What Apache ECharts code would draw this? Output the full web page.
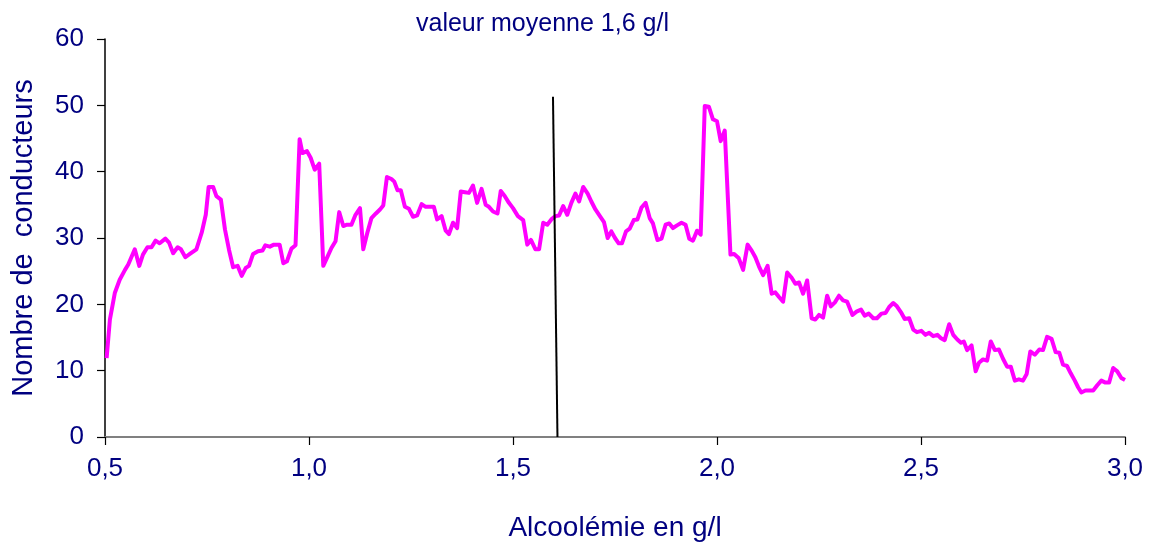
<!DOCTYPE html>
<html>
<head>
<meta charset="utf-8">
<script src="https://cdn.jsdelivr.net/npm/echarts@6/dist/echarts.min.js"></script>
<style>html,body{margin:0;padding:0;background:#fff;}#c{width:1151px;height:544px;}</style>
</head>
<body>
<div id="c"></div>
<script>
var titleText = 'valeur moyenne 1,6 g/l';
var xName = 'Alcoolémie en g/l';
var yName = 'Nombre de  conducteurs';
var alcool = [0.504,0.512,0.524,0.536,0.549,0.557,0.573,0.584,0.593,0.604,0.614,0.624,0.634,0.648,0.657,0.667,0.678,0.686,0.697,0.708,0.724,0.737,0.747,0.754,0.765,0.773,0.784,0.794,0.804,0.814,0.825,0.835,0.845,0.853,0.863,0.875,0.886,0.893,0.904,0.914,0.928,0.937,0.946,0.957,0.967,
0.977,0.984,0.995,1.004,1.014,1.025,1.035,1.044,1.055,1.065,1.074,1.084,1.093,1.104,1.114,1.125,1.133,1.143,1.153,1.164,1.174,1.182,1.191,1.202,1.209,1.217,1.225,1.235,1.245,1.255,1.265,1.276,1.286,1.296,1.306,1.314,1.325,1.335,1.343,1.353,1.363,1.372,1.382,1.392,1.402,1.412,1.423,1.433,1.441,1.451,1.462,1.470,1.480,1.490,1.500,1.512,1.525,1.535,1.544,1.555,1.564,1.574,1.584,1.594,1.604,1.613,1.623,1.633,1.643,1.653,1.662,1.672,1.683,1.692,1.702,1.713,1.723,1.732,1.741,1.750,1.759,1.767,1.777,1.786,1.796,1.805,1.815,1.825,1.835,1.843,1.854,1.864,1.874,1.883,1.892,1.902,1.913,1.923,1.932,1.941,1.951,1.960,1.970,1.980,1.990,2.000,2.009,2.019,2.033,2.042,2.053,2.064,2.075,2.085,2.094,2.103,2.113,2.124,2.134,2.143,2.152,2.162,2.172,2.183,2.192,2.201,2.211,2.221,2.232,2.241,2.250,2.260,2.270,2.279,2.289,2.299,2.309,2.319,2.332,2.342,2.353,2.362,2.372,2.383,2.392,2.403,2.413,2.422,2.432,2.441,2.451,2.460,2.471,2.481,2.490,2.501,2.511,2.520,2.530,2.540,2.549,2.558,2.569,2.579,2.589,2.598,2.605,2.613,2.624,2.634,2.642,2.652,2.662,2.671,2.681,2.691,2.701,2.711,2.720,2.730,2.740,2.750,2.759,2.768,2.779,2.790,2.799,2.809,2.820,2.830,2.839,2.848,2.858,2.867,2.877,2.885,2.893,2.903,2.914,2.922,2.932,2.942,2.952,2.961,2.971,2.981,2.991,3.000];
var conducteurs = [11.9,17.7,21.7,23.7,25.2,26.0,28.3,25.8,27.5,28.6,28.6,29.6,29.2,29.9,29.3,27.7,28.6,28.3,27.1,27.6,28.3,30.8,33.5,37.7,37.7,36.3,35.8,31.3,28.2,25.6,25.8,24.3,25.5,25.8,27.6,28.0,28.1,28.9,28.7,29.0,29.0,26.2,26.5,28.4,28.9,
44.9,42.8,43.1,42.1,40.3,41.2,25.8,27.0,28.5,29.5,33.9,31.8,32.0,32.0,33.5,34.5,28.3,30.8,33.0,33.7,34.3,34.9,39.2,38.9,38.5,37.2,37.2,34.7,34.4,33.2,33.4,35.1,34.7,34.7,34.7,32.8,33.3,31.1,30.6,32.3,31.5,37.0,36.9,36.8,37.9,35.3,37.4,35.0,34.7,34.0,33.7,37.1,36.3,35.3,34.5,33.3,32.7,29.0,29.7,28.3,28.3,32.3,32.0,32.8,33.3,33.4,34.8,33.5,35.3,36.7,35.5,37.7,36.7,35.5,34.3,33.3,32.4,30.0,31.0,30.0,29.2,29.2,31.0,31.4,32.7,32.8,34.6,35.3,33.0,32.2,29.7,29.9,32.0,32.2,31.5,31.9,32.3,32.0,29.9,29.6,31.1,30.5,49.9,49.8,47.9,47.6,44.6,46.2,27.5,27.6,27.0,25.2,29.0,28.1,27.1,25.7,24.4,25.8,21.6,21.8,21.1,20.4,24.8,24.0,23.1,23.3,21.6,23.6,17.9,17.7,18.4,18.0,21.3,19.7,20.3,21.3,20.6,20.4,18.4,18.9,19.2,18.3,18.6,17.9,17.9,18.6,18.7,19.6,20.2,19.7,18.8,17.8,17.9,16.2,15.8,16.0,15.4,15.7,15.2,15.4,14.9,14.6,17.0,15.4,14.7,14.2,14.4,13.1,13.8,9.9,11.2,11.7,11.5,14.4,13.1,13.2,11.8,10.6,10.6,8.5,8.7,8.5,9.5,12.9,12.4,13.2,13.1,15.1,14.8,12.8,12.7,10.9,10.7,9.6,8.5,7.5,6.7,7.0,7.0,7.0,7.8,8.5,8.2,8.2,10.4,9.9,8.9,8.6];
var moyenneX = [1.598, 1.609];
var moyenneY = [51.3, 0];
var xTicks = [0.5, 1.0, 1.5, 2.0, 2.5, 3.0];

var n = Math.min(alcool.length, conducteurs.length);
var lineData = [];
for (var i = 0; i < n; i++) lineData.push([alcool[i], conducteurs[i]]);
var meanData = [];
for (var j = 0; j < moyenneX.length; j++) meanData.push([moyenneX[j], moyenneY[j]]);

var FONT = "'Liberation Sans', Arial, sans-serif";
var NAVY = '#000080';
var chart = echarts.init(document.getElementById('c'), null, {renderer: 'canvas'});
chart.setOption({
  animation: false,
  backgroundColor: '#ffffff',
  title: {
    text: titleText, left: 411, top: 7,
    textStyle: {fontFamily: FONT, fontSize: 25, fontWeight: 'normal', color: NAVY}
  },
  grid: {left: 105, right: 26, top: 39, bottom: 107, containLabel: false, outerBoundsMode: 'none'},
  xAxis: {
    type: 'value', min: xTicks[0], max: xTicks[xTicks.length - 1], interval: 0.5,
    name: xName, nameLocation: 'middle', nameGap: 77,
    nameTextStyle: {fontFamily: FONT, fontSize: 28, color: NAVY},
    axisLine: {show: true, onZero: false, lineStyle: {color: '#808080', width: 2}},
    axisTick: {show: true, inside: false, length: 8, lineStyle: {color: '#000', width: 1.2}},
    axisLabel: {
      fontFamily: FONT, fontSize: 26, color: NAVY, margin: 19,
      formatter: function (v) { return v.toFixed(1).replace('.', ','); }
    },
    splitLine: {show: false}
  },
  yAxis: {
    type: 'value', min: 0, max: 60, interval: 10,
    name: yName, nameLocation: 'middle', nameGap: 67, nameRotate: 90,
    nameTextStyle: {fontFamily: FONT, fontSize: 29, color: NAVY},
    axisLine: {show: true, lineStyle: {color: '#000', width: 1.5}},
    axisTick: {show: true, inside: false, length: 8, lineStyle: {color: '#000', width: 1.2}},
    axisLabel: {fontFamily: FONT, fontSize: 26, color: NAVY, margin: 21},
    splitLine: {show: false}
  },
  series: [
    {
      type: 'line', data: lineData, showSymbol: false, symbol: 'none',
      lineStyle: {color: '#ff00ff', width: 4, join: 'round'}, z: 3
    },
    {
      type: 'line', data: meanData, showSymbol: false, symbol: 'none',
      lineStyle: {color: '#000000', width: 2}, z: 4
    }
  ]
});
</script>
</body>
</html>
